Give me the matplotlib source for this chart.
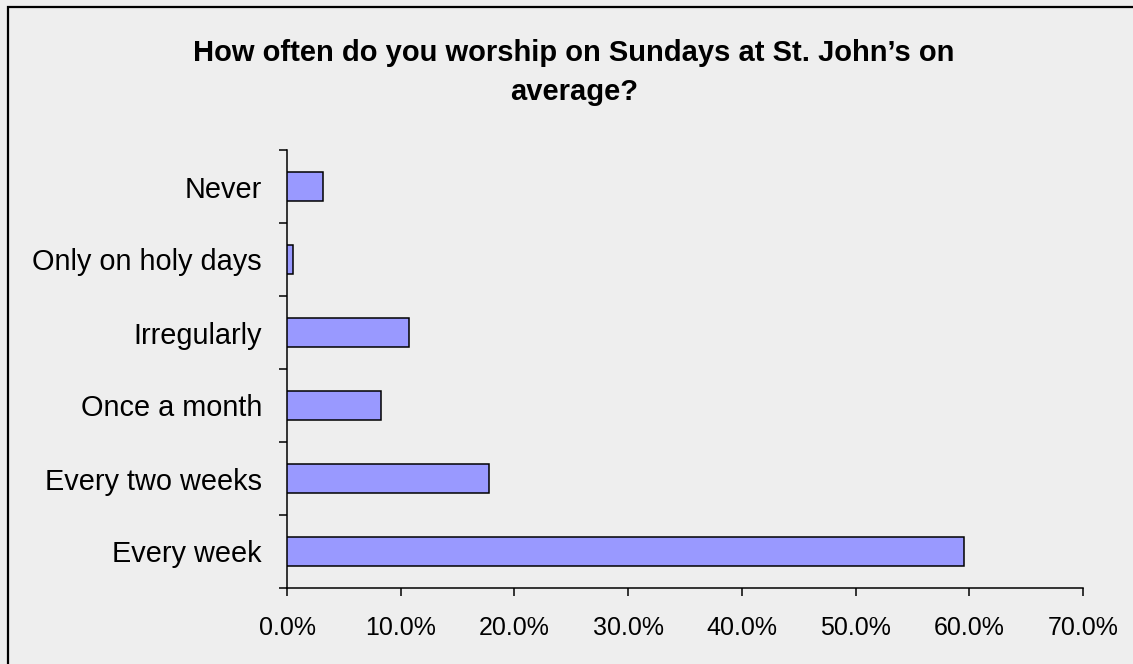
import matplotlib
matplotlib.use("Agg")
import matplotlib.pyplot as plt
from matplotlib.patches import Rectangle
from matplotlib.ticker import FixedLocator, FuncFormatter

categories = ["Never", "Only on holy days", "Irregularly", "Once a month",
              "Every two weeks", "Every week"]
values = [3.2, 0.5, 10.7, 8.3, 17.8, 59.5]
xticks = [0, 10, 20, 30, 40, 50, 60, 70]
title_lines = ["How often do you worship on Sundays at St. John\u2019s on", "average?"]

bg = "#EEEEEE"
plt.rcParams['font.family'] = ['Liberation Sans', 'DejaVu Sans']

fig = plt.figure(figsize=(11.33, 6.64), dpi=100, facecolor=bg)
W, H = 1133, 664
ax = fig.add_axes([287 / W, 1 - 588 / H, (1083 - 287) / W, (588 - 150) / H])
ax.set_facecolor(bg)

n = len(categories)
ypos = [n - 1 - i for i in range(n)]
ax.barh(ypos, values, height=0.41, color="#9999FF", edgecolor="black",
        linewidth=1.1, zorder=3)

ax.set_xlim(0, 70)
ax.set_ylim(-0.5, n - 0.5)

for s in ["top", "right"]:
    ax.spines[s].set_visible(False)
for s in ["left", "bottom"]:
    ax.spines[s].set_linewidth(1.1)
    ax.spines[s].set_color("black")

ax.set_xticks(xticks)
ax.xaxis.set_major_formatter(FuncFormatter(lambda v, p: f"{v:.1f}%"))
ax.tick_params(axis="x", direction="out", length=5.8, width=1.1, pad=14.5,
               labelsize=18, colors="black")

ax.set_yticks(ypos)
ax.set_yticklabels(categories)
ax.tick_params(axis="y", which="major", length=0, pad=18, labelsize=20.8)
ax.yaxis.set_minor_locator(FixedLocator([i - 0.5 for i in range(n + 1)]))
ax.tick_params(axis="y", which="minor", direction="out", length=5.8, width=1.1)

cx = 574 / W
fig.text(cx, 1 - 61 / H, title_lines[0], ha="center", va="baseline",
         fontsize=21, fontweight="bold")
fig.text(cx, 1 - 100 / H, title_lines[1], ha="center", va="baseline",
         fontsize=21, fontweight="bold")

border = Rectangle((8 / W, -0.5), 1.5, 1.5 - 7 / H, transform=fig.transFigure,
                   fill=False, edgecolor="black", linewidth=1.6)
fig.patches.append(border)

fig.savefig("out.png", dpi=100, facecolor=bg)
